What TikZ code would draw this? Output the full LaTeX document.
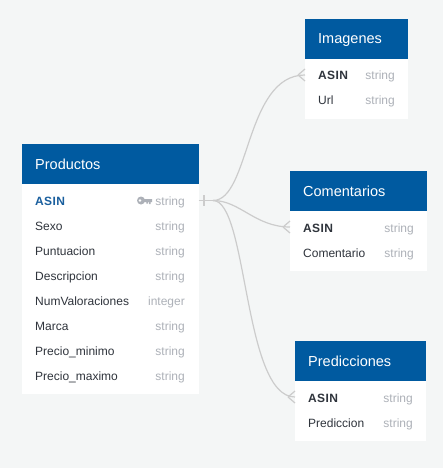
\documentclass[tikz,border=0pt]{standalone}
\usepackage{fontspec}
\setmainfont{Liberation Sans}
\definecolor{bgc}{HTML}{F4F6F6}
\definecolor{headc}{HTML}{005AA0}
\definecolor{linkc}{HTML}{CCCCCC}
\definecolor{typec}{HTML}{ADB1B8}
\definecolor{namec}{HTML}{2F343C}
\definecolor{pkc}{HTML}{1A5F9E}
\tikzset{
  x=1pt,y=-1pt,
  bodybox/.style={fill=white,draw=none,inner sep=0pt,anchor=north west},
  headbox/.style={fill=headc,draw=none,inner sep=0pt,anchor=north west},
  title/.style={text=white,font=\fontsize{14.5}{16}\selectfont,anchor=base west,inner sep=0pt},
  fname/.style={text=namec,font=\fontsize{12}{14}\selectfont,anchor=base west,inner sep=0pt},
  fkey/.style={fname,font=\fontsize{12}{14}\selectfont\bfseries},
  fpk/.style={fkey,text=pkc},
  ftype/.style={text=typec,font=\fontsize{12}{14}\selectfont,anchor=base east,inner sep=0pt},
  link/.style={draw=linkc,line width=1.2pt},
}
\newcommand{\spaced}[1]{\addfontfeatures{LetterSpace=3}#1}
\begin{document}
\begin{tikzpicture}
\useasboundingbox[fill=bgc] (0,0) rectangle (443,468);
% Productos
\node[bodybox,minimum width=176.5pt,minimum height=250pt] (pb) at (22,144) {};
\node[headbox,minimum width=176.5pt,minimum height=40pt] (ph) at (22,144) {};
\node[title] (pt) at (35,169) {Productos};
\node[fpk] (p1) at (35,205) {\spaced{ASIN}};
\node[ftype] (p1t) at (185,205) {string};
\node[fname] (p2) at (35,230) {Sexo};
\node[ftype] (p2t) at (185,230) {string};
\node[fname] (p3) at (35,255) {Puntuacion};
\node[ftype] (p3t) at (185,255) {string};
\node[fname] (p4) at (35,280) {Descripcion};
\node[ftype] (p4t) at (185,280) {string};
\node[fname] (p5) at (35,305) {NumValoraciones};
\node[ftype] (p5t) at (185,305) {integer};
\node[fname] (p6) at (35,330) {Marca};
\node[ftype] (p6t) at (185,330) {string};
\node[fname] (p7) at (35,355) {Precio\_minimo};
\node[ftype] (p7t) at (185,355) {string};
\node[fname] (p8) at (35,380) {Precio\_maximo};
\node[ftype] (p8t) at (185,380) {string};
% key icon
\fill[typec] (141,200.5) circle (4);
\fill[white] (140,200.5) circle (1.3);
\fill[typec] (144,199) -- (152,199) -- (152,202.2) -- (150.6,202.2) -- (150.6,204.2) -- (149,204.2) -- (149,202.2) -- (148,202.2) -- (148,203.6) -- (146.4,203.6) -- (146.4,202.2) -- (144,202.2) -- cycle;
% Imagenes
\node[bodybox,minimum width=103pt,minimum height=100pt] (ib) at (305,19) {};
\node[headbox,minimum width=103pt,minimum height=40pt] (ih) at (305,19) {};
\node[title] (it) at (318,44) {Imagenes};
\node[fkey] (i1) at (318,80) {\spaced{ASIN}};
\node[ftype] (i1t) at (395,80) {string};
\node[fname] (i2) at (318,105) {Url};
\node[ftype] (i2t) at (395,105) {string};
% Comentarios
\node[bodybox,minimum width=137pt,minimum height=100pt] (cb) at (290,171) {};
\node[headbox,minimum width=137pt,minimum height=40pt] (ch) at (290,171) {};
\node[title] (ct) at (303,196) {Comentarios};
\node[fkey] (c1) at (303,232) {\spaced{ASIN}};
\node[ftype] (c1t) at (414,232) {string};
\node[fname] (c2) at (303,257) {Comentario};
\node[ftype] (c2t) at (414,257) {string};
% Predicciones
\node[bodybox,minimum width=131pt,minimum height=100pt] (db) at (295,341) {};
\node[headbox,minimum width=131pt,minimum height=40pt] (dh) at (295,341) {};
\node[title] (dt) at (308,366) {Predicciones};
\node[fkey] (d1) at (308,402) {\spaced{ASIN}};
\node[ftype] (d1t) at (413,402) {string};
\node[fname] (d2) at (308,427) {Prediccion};
\node[ftype] (d2t) at (413,427) {string};
% connector ends
\coordinate (src) at (198.5,200.5);
\coordinate (srcb) at (213,200.5);
\coordinate (ia) at (305,75);
\coordinate (ca) at (290,227);
\coordinate (da) at (295,397);
% connectors
\draw[link] (src) -- (srcb);
\draw[link] (204,195) -- (204,206);
\draw[link] (srcb) .. controls (250,200.5) and (245,75) .. (ia);
\draw[link] (srcb) .. controls (240,200.5) and (255,227) .. (ca);
\draw[link] (srcb) .. controls (248,200.5) and (243,397) .. (da);
\draw[link] (ia) ++(-7,0) -- (305,69);
\draw[link] (ia) ++(-7,0) -- (305,81);
\draw[link] (ca) ++(-7,0) -- (290,221);
\draw[link] (ca) ++(-7,0) -- (290,233);
\draw[link] (da) ++(-7,0) -- (295,391);
\draw[link] (da) ++(-7,0) -- (295,403);
\end{tikzpicture}
\end{document}
